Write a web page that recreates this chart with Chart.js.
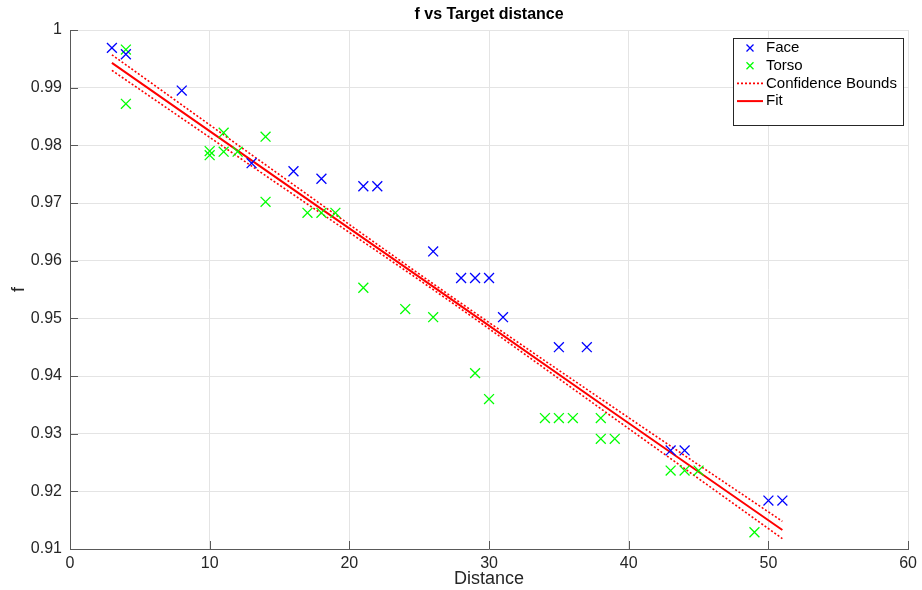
<!DOCTYPE html>
<html>
<head>
<meta charset="utf-8">
<title>f vs Target distance</title>
<script src="https://cdn.jsdelivr.net/npm/chart.js@4.4.1/dist/chart.umd.min.js"></script>
<style>
  html, body { margin: 0; padding: 0; background: #fff; }
  #chart { display: block; }
</style>
</head>
<body>
<canvas id="chart" width="922" height="590"></canvas>
<script>
// Measurements
const faceX = [3, 4, 8, 13, 16, 18, 21, 22, 26, 28, 29, 30, 31, 35, 37, 43, 44, 50, 51];
const faceY = [0.9969, 0.9958, 0.9895, 0.9769, 0.9755, 0.9742, 0.9729, 0.9729, 0.9616, 0.9570,
               0.9570, 0.9570, 0.9502, 0.9450, 0.9450, 0.9271, 0.9271, 0.9184, 0.9184];

const torsoX = [4, 4, 10, 10, 11, 11, 12, 14, 14, 17, 18, 19, 21, 24, 26, 29, 30, 34, 35, 36,
                38, 38, 39, 43, 44, 45, 49];
const torsoY = [0.9966, 0.9872, 0.9790, 0.9783, 0.9822, 0.9789, 0.9789, 0.9815, 0.9702, 0.9683,
                0.9683, 0.9683, 0.9553, 0.9516, 0.9502, 0.9405, 0.9360, 0.9327, 0.9327, 0.9327,
                0.9327, 0.9291, 0.9291, 0.9236, 0.9236, 0.9236, 0.9129];

// Linear fit and its confidence bounds
const fitX = [3, 15, 27, 39, 51];
const fitY = [0.9943, 0.9740, 0.9538, 0.9335, 0.9133];
const upperY = [0.9957, 0.9749, 0.9543, 0.9344, 0.9148];
const lowerY = [0.9930, 0.9731, 0.9533, 0.9326, 0.9118];

// Axis ticks
const xTicks = [0, 10, 20, 30, 40, 50, 60];
const yTicks = [0.91, 0.92, 0.93, 0.94, 0.95, 0.96, 0.97, 0.98, 0.99, 1];
const yTickLabels = ['0.91', '0.92', '0.93', '0.94', '0.95', '0.96', '0.97', '0.98', '0.99', '1'];

const FONT = "'Liberation Sans', Arial, Helvetica, sans-serif";
const BLUE = '#0000ff';
const GREEN = '#00ff00';
const RED = '#ff0000';
const AXIS = '#595959';
const DOTS = [2, 2];

const pts = (xs, ys) => xs.map((x, i) => ({ x: x, y: ys[i] }));

// inside tick marks, MATLAB style
const innerTicks = {
  id: 'innerTicks',
  afterDatasetsDraw(chart) {
    const { ctx, chartArea: a, scales: { x, y } } = chart;
    ctx.save();
    ctx.strokeStyle = AXIS;
    ctx.lineWidth = 1;
    ctx.beginPath();
    xTicks.forEach(v => {
      const px = Math.round(x.getPixelForValue(v)) + 0.5;
      ctx.moveTo(px, a.bottom);
      ctx.lineTo(px, a.bottom - 8);
    });
    yTicks.forEach(v => {
      const py = Math.round(y.getPixelForValue(v)) + 0.5;
      ctx.moveTo(a.left, py);
      ctx.lineTo(a.left + 8, py);
    });
    ctx.stroke();
    ctx.restore();
  }
};

// title + boxed legend inside the axes
const decorations = {
  id: 'decorations',
  afterDraw(chart) {
    const { ctx, chartArea: a } = chart;
    ctx.save();
    ctx.fillStyle = '#000';
    ctx.font = 'bold 16px ' + FONT;
    ctx.textAlign = 'center';
    ctx.textBaseline = 'middle';
    ctx.fillText('f vs Target distance', (a.left + a.right) / 2, 15);

    const bx = 733, by = 38, bw = 170, bh = 87;
    ctx.fillStyle = '#fff';
    ctx.fillRect(bx, by, bw, bh);
    ctx.strokeStyle = '#262626';
    ctx.lineWidth = 1;
    ctx.strokeRect(bx + 0.5, by + 0.5, bw, bh);

    const rows = [
      { label: 'Face', kind: 'cross', color: BLUE },
      { label: 'Torso', kind: 'cross', color: GREEN },
      { label: 'Confidence Bounds', kind: 'dotted', color: RED },
      { label: 'Fit', kind: 'solid', color: RED }
    ];
    ctx.font = '15px ' + FONT;
    ctx.textAlign = 'left';
    rows.forEach((r, i) => {
      const cy = by + 10 + i * 17.7;
      ctx.strokeStyle = r.color;
      ctx.beginPath();
      if (r.kind === 'cross') {
        ctx.lineWidth = 1.3;
        ctx.moveTo(746.5, cy - 3.5); ctx.lineTo(753.5, cy + 3.5);
        ctx.moveTo(746.5, cy + 3.5); ctx.lineTo(753.5, cy - 3.5);
      } else {
        ctx.lineWidth = r.kind === 'solid' ? 2 : 1.6;
        ctx.setLineDash(r.kind === 'solid' ? [] : DOTS);
        ctx.moveTo(737, cy);
        ctx.lineTo(763, cy);
      }
      ctx.stroke();
      ctx.setLineDash([]);
      ctx.fillStyle = '#000';
      ctx.fillText(r.label, 766, cy);
    });
    ctx.restore();
  }
};

new Chart(document.getElementById('chart'), {
  type: 'scatter',
  data: {
    datasets: [
      {
        label: 'Face',
        data: pts(faceX, faceY),
        pointStyle: 'crossRot',
        pointRadius: 7,
        pointBorderWidth: 1.3,
        borderColor: BLUE,
        backgroundColor: BLUE
      },
      {
        label: 'Torso',
        data: pts(torsoX, torsoY),
        pointStyle: 'crossRot',
        pointRadius: 7,
        pointBorderWidth: 1.3,
        borderColor: GREEN,
        backgroundColor: GREEN
      },
      {
        label: 'Confidence Bounds',
        type: 'line',
        data: pts(fitX, upperY),
        borderColor: RED,
        borderWidth: 1.6,
        borderDash: DOTS,
        pointRadius: 0,
        cubicInterpolationMode: 'monotone',
        fill: false
      },
      {
        label: 'Confidence Bounds (lower)',
        type: 'line',
        data: pts(fitX, lowerY),
        borderColor: RED,
        borderWidth: 1.6,
        borderDash: DOTS,
        pointRadius: 0,
        cubicInterpolationMode: 'monotone',
        fill: false
      },
      {
        label: 'Fit',
        type: 'line',
        data: pts(fitX, fitY),
        borderColor: RED,
        borderWidth: 2,
        pointRadius: 0,
        fill: false
      }
    ]
  },
  options: {
    responsive: false,
    animation: false,
    layout: { padding: { top: 30, right: 11, left: 0, bottom: 0 } },
    plugins: {
      legend: { display: false },
      title: { display: false },
      tooltip: { enabled: false }
    },
    scales: {
      x: {
        type: 'linear',
        min: 0,
        max: 60,
        afterBuildTicks: s => { s.ticks = xTicks.map(v => ({ value: v })); },
        afterFit: s => { s.height = 41; },
        grid: { color: '#e4e4e4', drawTicks: false },
        border: { color: AXIS, width: 1 },
        ticks: {
          padding: 5,
          color: '#262626',
          font: { family: FONT, size: 16 },
          maxRotation: 0
        },
        title: {
          display: true,
          text: 'Distance',
          color: '#262626',
          font: { family: FONT, size: 18 },
          padding: 0
        }
      },
      y: {
        type: 'linear',
        min: 0.91,
        max: 1,
        afterBuildTicks: s => { s.ticks = yTicks.map(v => ({ value: v })); },
        afterFit: s => { s.width = 70; },
        grid: { color: '#e4e4e4', drawTicks: false },
        border: { color: AXIS, width: 1 },
        ticks: {
          padding: 8,
          color: '#262626',
          font: { family: FONT, size: 16 },
          callback: (v, i) => yTickLabels[i]
        },
        title: {
          display: true,
          text: 'f',
          color: '#262626',
          font: { family: FONT, size: 18 },
          padding: { top: 8, bottom: 0 }
        }
      }
    }
  },
  plugins: [innerTicks, decorations]
});
</script>
</body>
</html>
